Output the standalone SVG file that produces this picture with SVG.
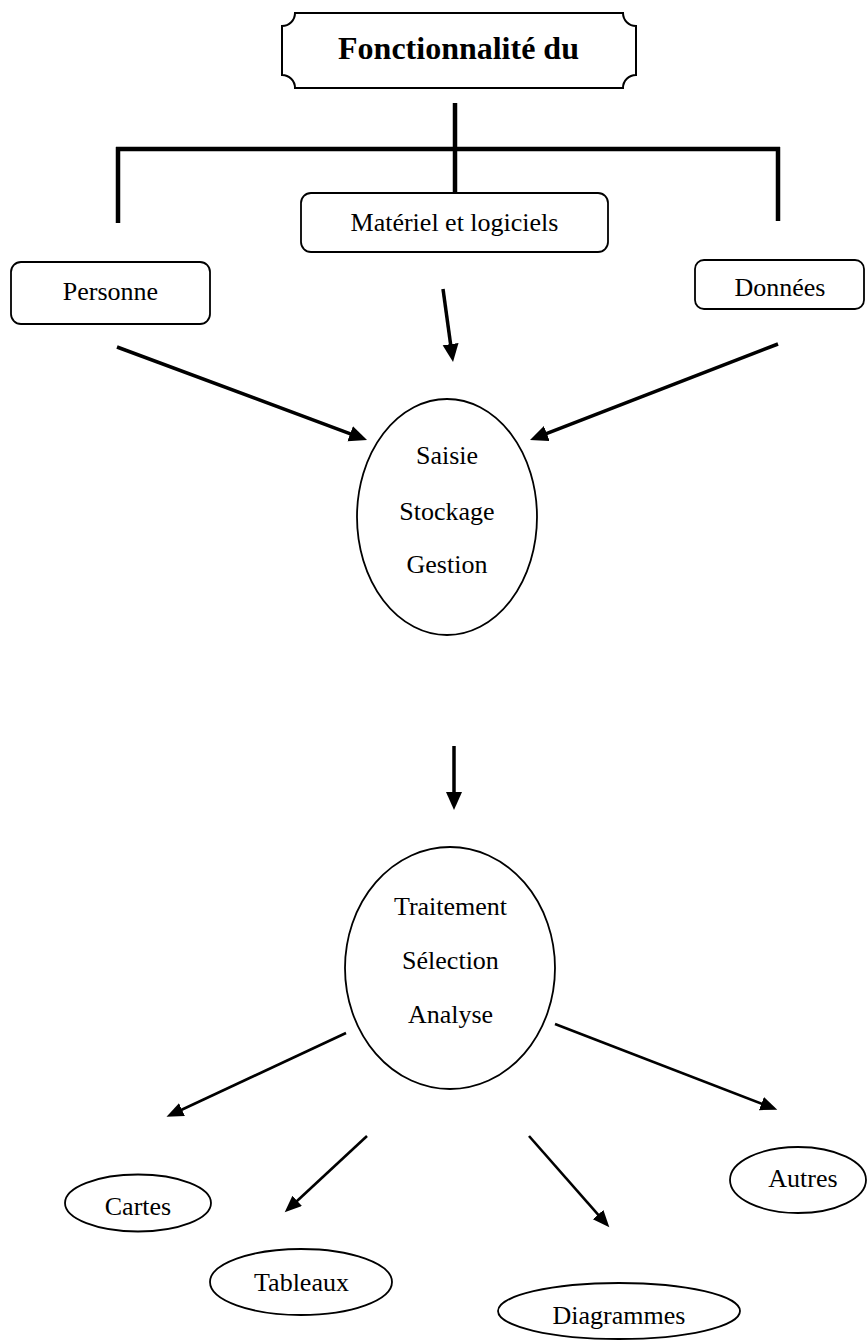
<svg xmlns="http://www.w3.org/2000/svg" width="867" height="1341" viewBox="0 0 867 1341">
<style>
.bg{fill:#fff}
.shape{fill:#fff;stroke:#000;stroke-width:1.8}
.thick{stroke:#000;stroke-width:4.5;fill:none;stroke-linecap:butt}
.arr{stroke:#000;stroke-width:3.5;fill:none}
.arr2{stroke:#000;stroke-width:2.6;fill:none}
text{font-family:"Liberation Serif","Times New Roman",serif;font-size:26px;fill:#000;text-anchor:middle}
.title{font-weight:bold;font-size:32px}
</style>
<defs>
<marker id="ah" markerUnits="userSpaceOnUse" markerWidth="22" markerHeight="18" refX="6" refY="8" orient="auto">
<path d="M0,0 L18,8 L0,16 Z" fill="#000"/>
</marker>
<marker id="ah2" markerUnits="userSpaceOnUse" markerWidth="22" markerHeight="16" refX="5" refY="7" orient="auto">
<path d="M0,0 L17,7 L0,14 Z" fill="#000"/>
</marker>
</defs>
<rect class="bg" x="0" y="0" width="867" height="1341"/>

<g id="connectors">
<line class="thick" x1="455" y1="103" x2="455" y2="193"/>
<line class="thick" x1="116" y1="149" x2="780" y2="149"/>
<line class="thick" x1="118" y1="147" x2="118" y2="223"/>
<line class="thick" x1="778" y1="147" x2="778" y2="221"/>
<line class="arr" x1="117" y1="347" x2="355.8" y2="435.8" marker-end="url(#ah)"/>
<line class="arr" x1="778" y1="344" x2="541.2" y2="435.7" marker-end="url(#ah)"/>
<line class="arr" x1="443" y1="289" x2="451.4" y2="350.1" marker-end="url(#ah)"/>
<line class="arr" x1="454" y1="746" x2="454" y2="798" marker-end="url(#ah)"/>
<line class="arr2" x1="346" y1="1033" x2="177.4" y2="1111.7" marker-end="url(#ah2)"/>
<line class="arr2" x1="367" y1="1136" x2="293.5" y2="1204.2" marker-end="url(#ah2)"/>
<line class="arr2" x1="529" y1="1136" x2="601.4" y2="1218.3" marker-end="url(#ah2)"/>
<line class="arr2" x1="555" y1="1024" x2="766.1" y2="1105.4" marker-end="url(#ah2)"/>
</g>

<g id="title">
<path class="shape" style="stroke-width:2" d="M295,13 L623,13 A13,13 0 0 0 636,26 L636,75 A13,13 0 0 0 623,88 L295,88 A13,13 0 0 0 282,75 L282,26 A13,13 0 0 0 295,13 Z"/>
<text class="title" x="458.5" y="59">Fonctionnalité du</text>
</g>

<g id="materiel">
<rect class="shape" x="301" y="193" width="307" height="59" rx="10" ry="10"/>
<text x="454.5" y="231">Matériel et logiciels</text>
</g>

<g id="personne">
<rect class="shape" x="11" y="262" width="199" height="62" rx="10" ry="10"/>
<text x="110.5" y="300">Personne</text>
</g>

<g id="donnees">
<rect class="shape" x="695" y="260" width="169" height="49" rx="9" ry="9"/>
<text x="780" y="296">Données</text>
</g>

<g id="saisie">
<ellipse class="shape" cx="447" cy="517" rx="90" ry="118"/>
<text x="447" y="464">Saisie</text>
<text x="447" y="520">Stockage</text>
<text x="447" y="573">Gestion</text>
</g>

<g id="traitement">
<ellipse class="shape" cx="450" cy="968" rx="105" ry="121"/>
<text x="450.5" y="915">Traitement</text>
<text x="450.5" y="969">Sélection</text>
<text x="450.5" y="1023">Analyse</text>
</g>

<g id="cartes">
<ellipse class="shape" cx="138" cy="1203" rx="73" ry="28.5"/>
<text x="138" y="1215">Cartes</text>
</g>

<g id="tableaux">
<ellipse class="shape" cx="301" cy="1282" rx="91" ry="33"/>
<text x="301.5" y="1291">Tableaux</text>
</g>

<g id="diagrammes">
<ellipse class="shape" cx="619" cy="1311" rx="121" ry="28"/>
<text x="619" y="1324">Diagrammes</text>
</g>

<g id="autres">
<ellipse class="shape" cx="798" cy="1180" rx="68" ry="33"/>
<text x="803" y="1187">Autres</text>
</g>
</svg>
